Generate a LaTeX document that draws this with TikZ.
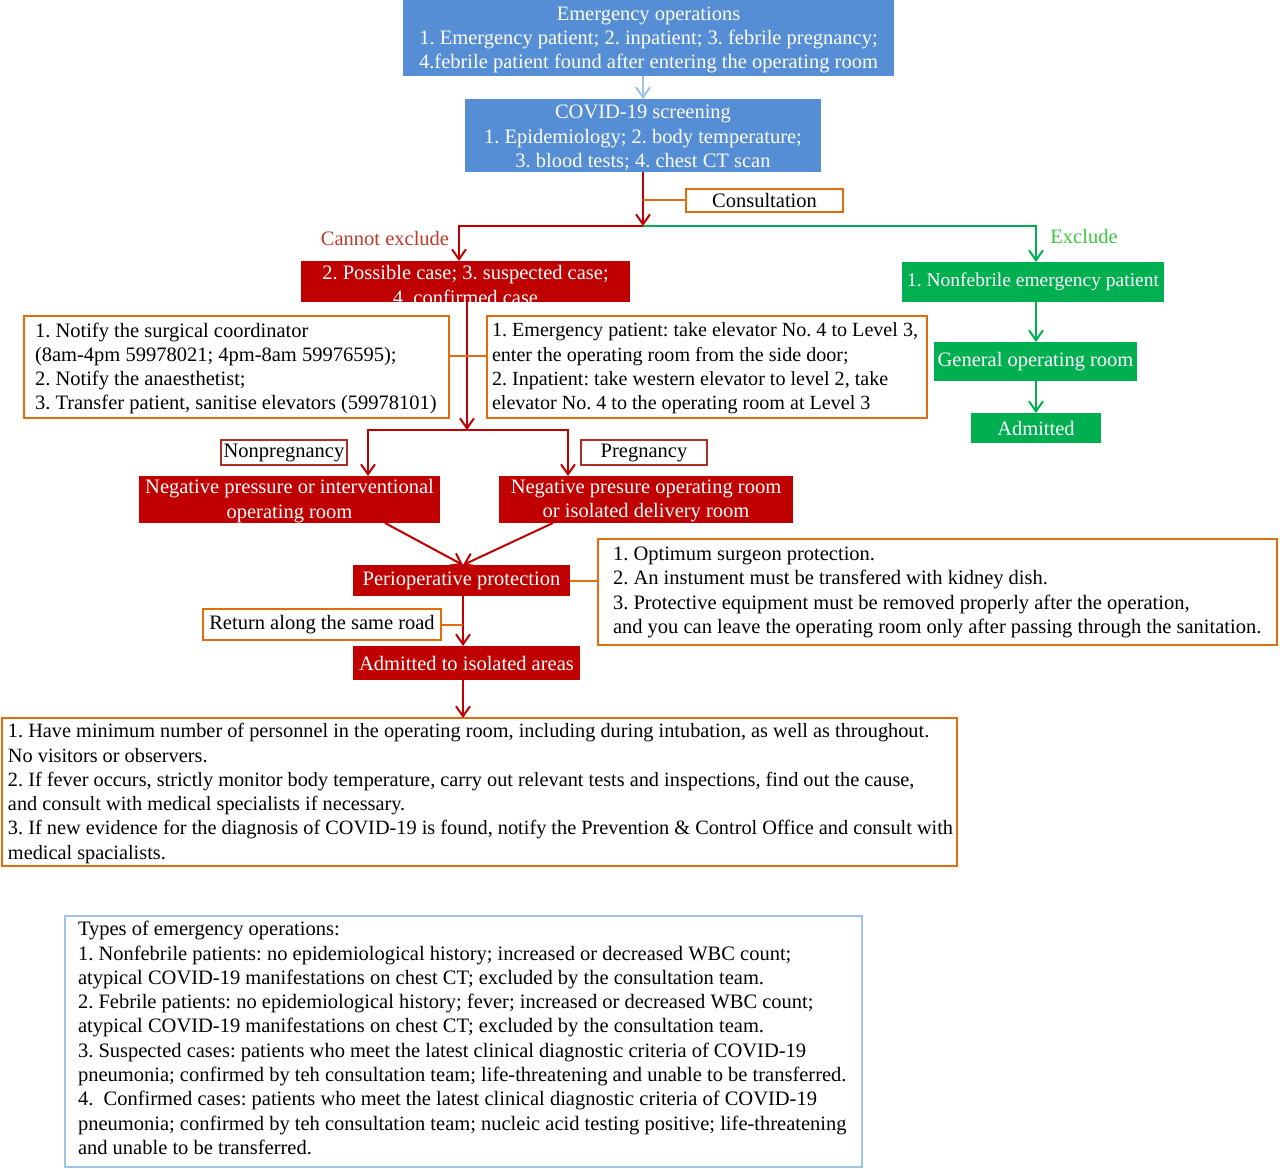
\documentclass[tikz,border=0pt]{standalone}
\usepackage{fontspec}
\setmainfont{Liberation Serif}
\usetikzlibrary{arrows.meta,calc}
\definecolor{cblue}{RGB}{85,142,213}
\definecolor{cred}{RGB}{192,0,0}
\definecolor{cgreen}{RGB}{0,176,80}
\definecolor{corange}{RGB}{228,108,10}
\definecolor{clblue}{RGB}{157,195,230}
\definecolor{cbrick}{RGB}{192,57,43}
\definecolor{cbright}{RGB}{60,200,60}
\definecolor{cdred}{RGB}{175,45,35}
\frenchspacing
\begin{document}
\begin{tikzpicture}[x=1pt,y=-1pt,
  every node/.style={inner sep=0pt, outer sep=0pt, align=center, font=\fontsize{20.5}{24.3}\selectfont},
  bluebox/.style={fill=cblue, text=white},
  redbox/.style={fill=cred, text=white},
  greenbox/.style={fill=cgreen, text=white},
  obox/.style={draw=corange, line width=2pt, fill=white},
  rbox/.style={draw=cdred, line width=1.5pt, fill=white},
  lbbox/.style={draw=clblue, line width=2pt},
  wtext/.style={text=white},
  ltext/.style={align=left, anchor=west},
  arrtip/.style={-{Straight Barb[length=10pt,width=14pt]}},
  redarr/.style={draw=cred, line width=2pt, arrtip},
  greenarr/.style={draw=cgreen, line width=2pt, arrtip},
  bluearr/.style={draw=clblue, line width=2pt, arrtip},
  oline/.style={draw=corange, line width=2pt}
]
\useasboundingbox (0,0) rectangle (1280,1169);

% top
\node[bluebox, minimum width=491pt, minimum height=76pt] (e1) at (648.5,38) {};
\node[wtext] (e1t) at (648.5,40) {Emergency operations\\1. Emergency patient; 2. inpatient; 3. febrile pregnancy;\\4.febrile patient found after entering the operating room};
\node[bluebox, minimum width=356pt, minimum height=73pt] (cov) at (643,135.5) {};
\node[wtext] (covt) at (643,138) {COVID-19 screening\\1. Epidemiology; 2. body temperature;\\3. blood tests; 4. chest CT scan};
\draw[bluearr] (cov.north |- e1.south) -- (cov.north);

\coordinate (sp1) at (643,226);
\node[obox, minimum width=157pt, minimum height=23pt] (cons) at (764.5,200.5) {Consultation};

% green branch
\node[greenbox, minimum width=262pt, minimum height=40pt, font=\fontsize{19.5}{24.3}\selectfont] (nf) at (1033,282) {1. Nonfebrile emergency patient};
\node[greenbox, minimum width=203pt, minimum height=39pt] (gor) at (1035.5,361.5) {General operating room};
\node[greenbox, minimum width=130pt, minimum height=30pt] (adm) at (1036,428) {Admitted};
\draw[greenarr] (sp1) -| ([xshift=3pt]nf.north);
\draw[greenarr] ([xshift=3pt]nf.south) -- ([xshift=0.5pt]gor.north);
\draw[greenarr] ([xshift=0.5pt]gor.south) -- (adm.north);
\node[text=cbright] (ex) at (1084,236) {Exclude};

% red branch
\node[redbox, minimum width=329pt, minimum height=41pt] (poss) at (465.5,281.5) {};
\node[wtext] (posst) at (465.5,285) {2. Possible case; 3. suspected case;\\4. confirmed case};
\draw[redarr] (cov.south) -- (sp1);
\draw[redarr] (sp1) -| ([xshift=-6.5pt]poss.north);
\draw[oline] (cons.west) -- (cons.west -| sp1);
\node[text=cbrick] (ce) at (385,238) {Cannot exclude};

\coordinate (sp2) at (467,430);
\draw[redarr] ([xshift=1.5pt]poss.south) -- (sp2);

\node[obox, minimum width=425pt, minimum height=102pt] (lb) at (236.5,367) {};
\node[ltext] (lbt) at ([xshift=11pt,yshift=-1.5pt]lb.west) {1. Notify the surgical coordinator\\(8am-4pm 59978021; 4pm-8am 59976595);\\2. Notify the anaesthetist;\\3. Transfer patient, sanitise elevators (59978101)};
\node[obox, minimum width=440pt, minimum height=102pt] (rb) at (707,367) {};
\node[ltext, font=\fontsize{20.1}{24.3}\selectfont] (rbt) at ([xshift=5pt,yshift=-1.5pt]rb.west) {1. Emergency patient: take elevator No. 4 to Level 3,\\enter the operating room from the side door;\\2. Inpatient: take western elevator to level 2, take\\elevator No. 4 to the operating room at Level 3};
\draw[oline] ([yshift=11pt]lb.east) -- ([yshift=11pt]rb.west);

\node[redbox, minimum width=301pt, minimum height=47pt] (nl) at (289.5,499.5) {};
\node[wtext] (nlt) at (289.5,501) {Negative pressure or interventional\\operating room};
\node[redbox, minimum width=294pt, minimum height=47pt] (nr) at (646,499.5) {};
\node[wtext] (nrt) at (646,501) {Negative presure operating room\\or isolated delivery room};
\node[rbox, minimum width=126pt, minimum height=25pt] (np) at (284,452.5) {Nonpregnancy};
\node[rbox, minimum width=126pt, minimum height=25pt] (pg) at (644,452.5) {Pregnancy};
\draw[redarr] (sp2) -| ([xshift=78.5pt]nl.north);
\draw[redarr] (sp2) -| ([xshift=-78pt]nr.north);

\node[redbox, minimum width=217pt, minimum height=31pt] (pp) at (461.5,580.5) {Perioperative protection};
\draw[redarr] ([xshift=95.5pt]nl.south) -- ([xshift=1.5pt]pp.north);
\draw[redarr] ([xshift=-93pt]nr.south) -- ([xshift=1.5pt]pp.north);

\node[obox, minimum width=679pt, minimum height=106pt] (pn) at (937.5,592) {};
\node[ltext] (pnt) at ([xshift=15pt,yshift=-0.5pt]pn.west) {1. Optimum surgeon protection.\\2. An instument must be transfered with kidney dish.\\3. Protective equipment must be removed properly after the operation,\\and you can leave the operating room only after passing through the sanitation.};
\draw[oline] (pp.east) -- (pp.east -| pn.west);

\node[redbox, minimum width=227pt, minimum height=34pt] (ai) at (466.5,663) {Admitted to isolated areas};
\coordinate (ppx) at ([xshift=1.5pt]pp.south);
\draw[redarr] (ppx) -- ([xshift=-3.5pt]ai.north);
\node[obox, minimum width=238pt, minimum height=31pt] (rt) at (322,624.5) {Return along the same road};
\draw[oline] (rt.east) -- (rt.east -| ppx);

\node[obox, minimum width=955pt, minimum height=148pt] (bb) at (479.5,792) {};
\node[ltext, font=\fontsize{20.3}{24.3}\selectfont] (bbt) at ([xshift=6pt,yshift=-1.5pt]bb.west) {1. Have minimum number of personnel in the operating room, including during intubation, as well as throughout.\\No visitors or observers.\\2. If fever occurs, strictly monitor body temperature, carry out relevant tests and inspections, find out the cause,\\and consult with medical specialists if necessary.\\3. If new evidence for the diagnosis of COVID-19 is found, notify the Prevention \& Control Office and consult with\\medical spacialists.};
\coordinate (aix) at ([xshift=-3.5pt]ai.south);
\draw[redarr] (aix) -- (aix |- bb.north);

\node[lbbox, minimum width=797pt, minimum height=251pt] (tb) at (463.5,1041.5) {};
\node[ltext] (tbt) at ([xshift=13pt,yshift=3.5pt]tb.west) {Types of emergency operations:\\1. Nonfebrile patients: no epidemiological history; increased or decreased WBC count;\\atypical COVID-19 manifestations on chest CT; excluded by the consultation team.\\2. Febrile patients: no epidemiological history; fever; increased or decreased WBC count;\\atypical COVID-19 manifestations on chest CT; excluded by the consultation team.\\3. Suspected cases: patients who meet the latest clinical diagnostic criteria of COVID-19\\pneumonia; confirmed by teh consultation team; life-threatening and unable to be transferred.\\4.\ \ Confirmed cases: patients who meet the latest clinical diagnostic criteria of COVID-19\\pneumonia; confirmed by teh consultation team; nucleic acid testing positive; life-threatening\\and unable to be transferred.};
\end{tikzpicture}
\end{document}
